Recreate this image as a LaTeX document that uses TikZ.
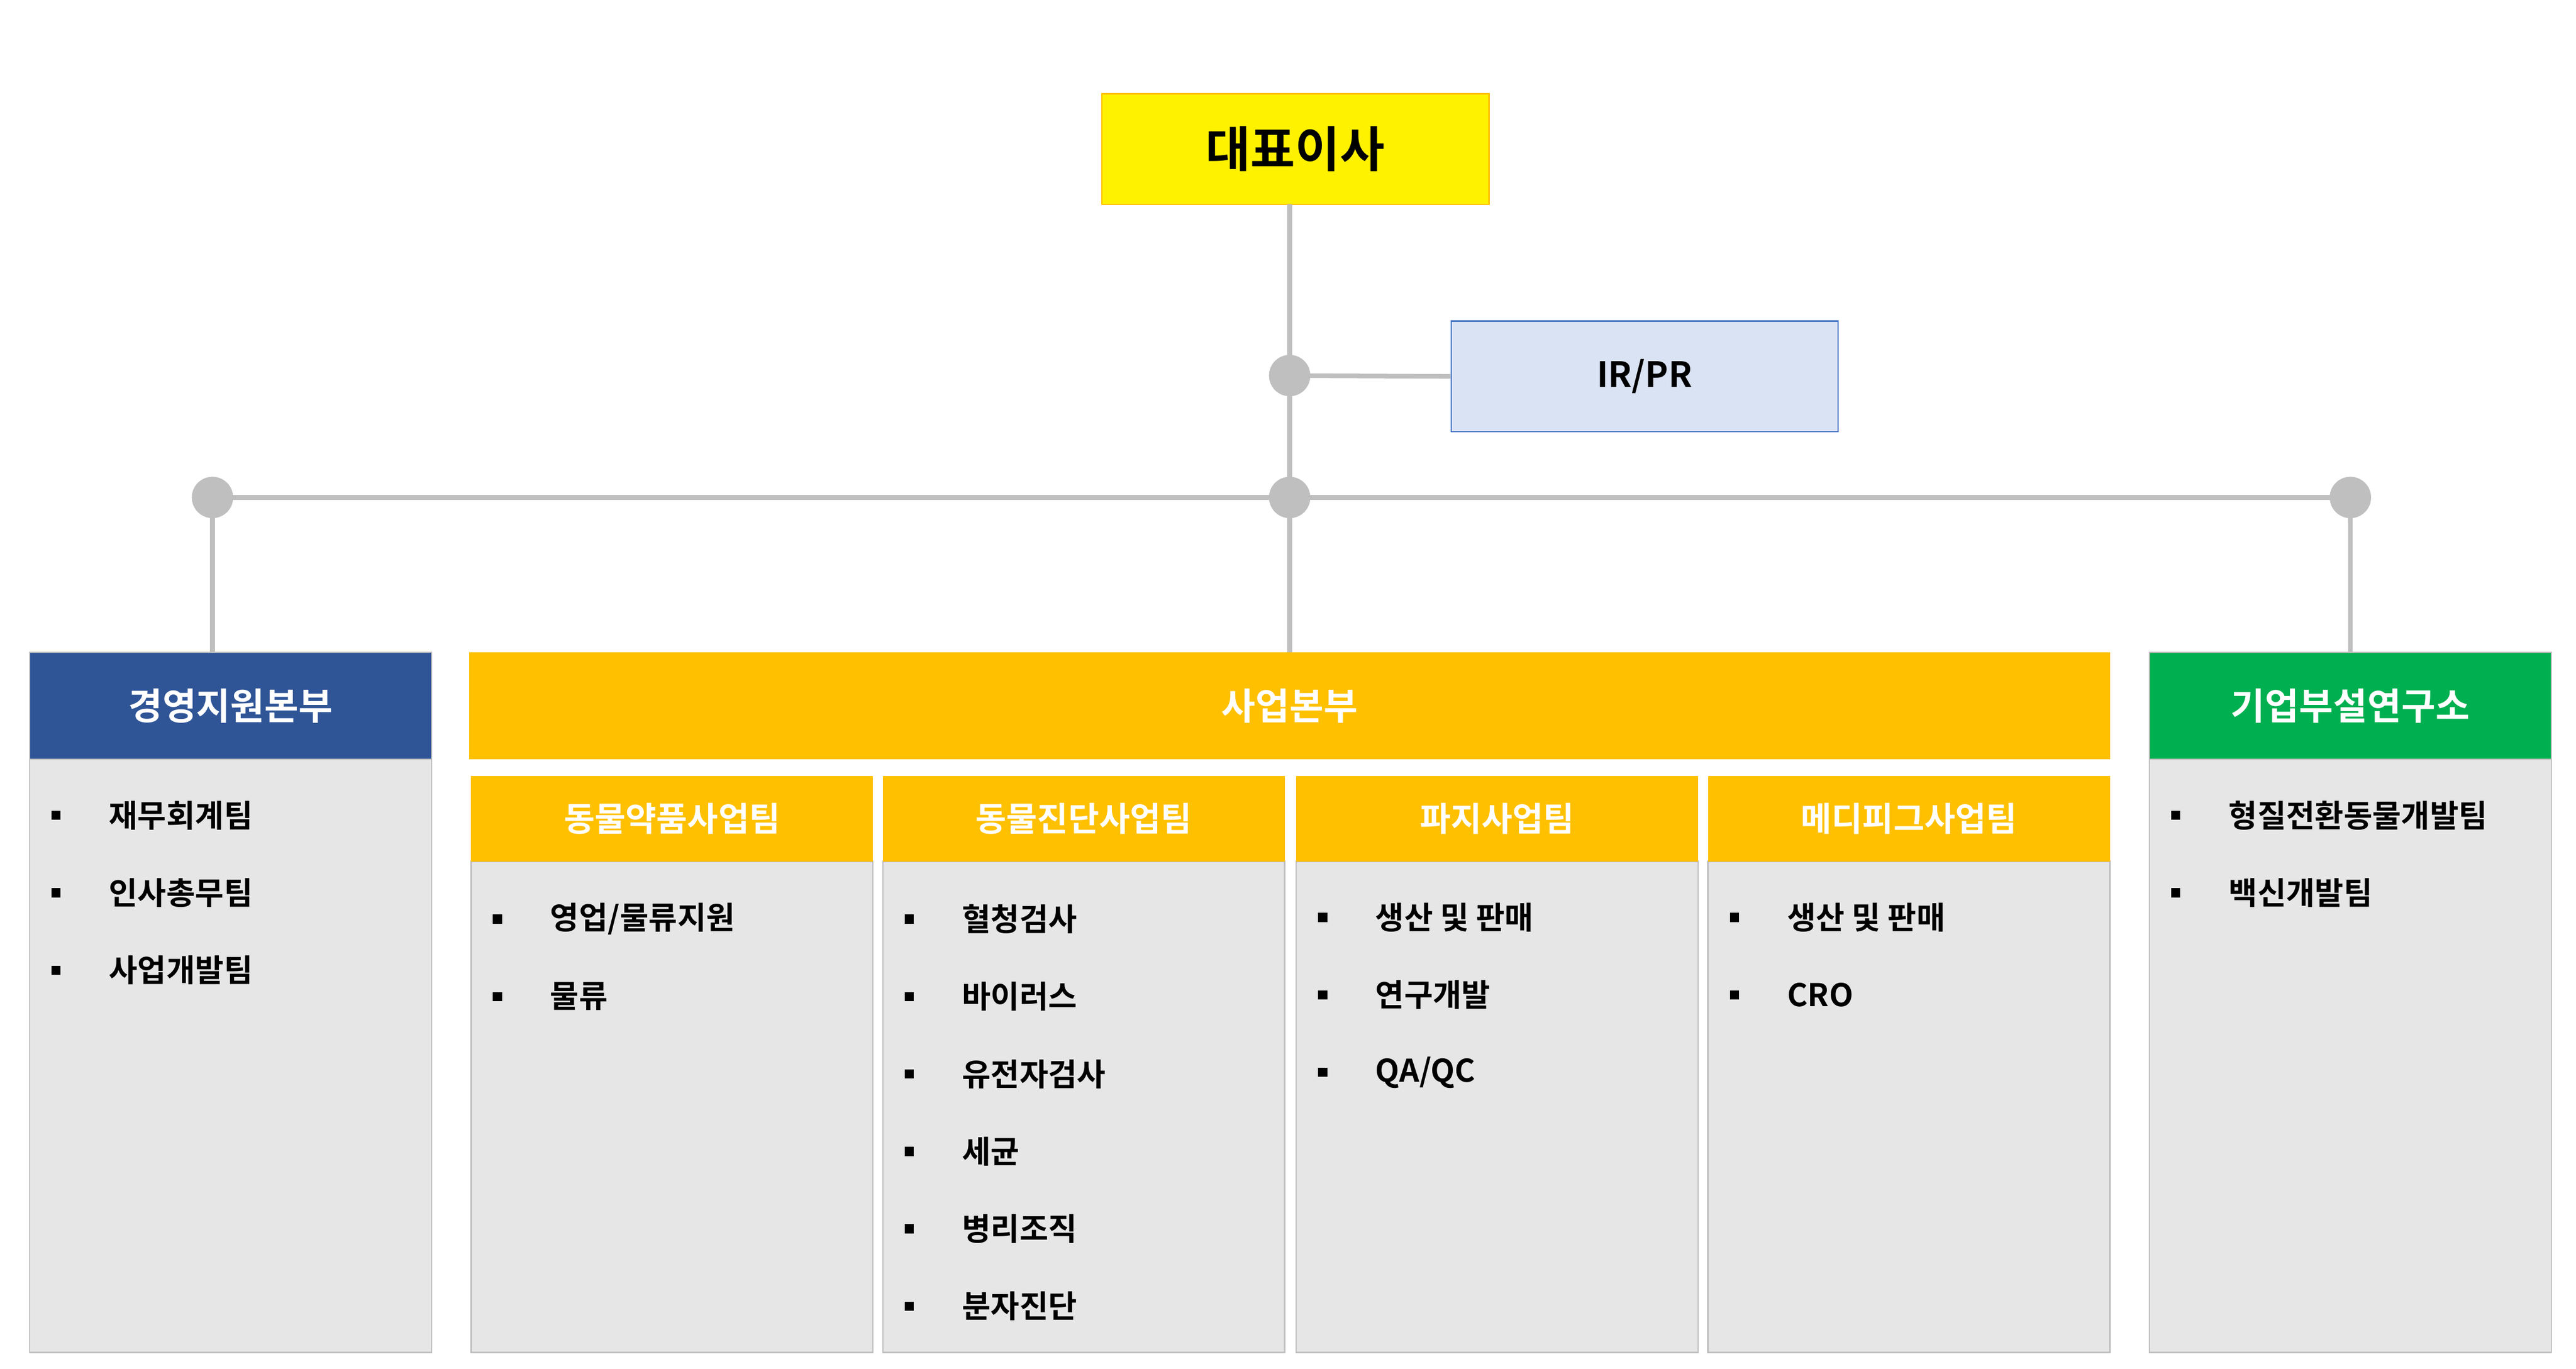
\documentclass[tikz,border=0pt]{standalone}
\usepackage{fontspec}
\setmainfont{Noto Sans CJK KR}[BoldFont={* Bold}]
\definecolor{lgray}{HTML}{BFBFBF}
\definecolor{bodyg}{HTML}{E7E6E6}
\definecolor{navy}{HTML}{2F5597}
\definecolor{gold}{HTML}{FFC000}
\definecolor{grn}{HTML}{00B050}
\definecolor{irfill}{HTML}{DAE3F3}
\definecolor{irline}{HTML}{4472C4}
\begin{document}
\begin{tikzpicture}[x=0.05cm,y=-0.05cm,
 conn/.style={draw=lgray,line width=4pt},
 dot/.style={circle,fill=lgray,minimum size=1.25cm,inner sep=0},
 body/.style={draw=lgray,fill=bodyg,line width=1.2pt},
 htxt/.style={font=\fontsize{32}{36}\selectfont\bfseries,text=white},
 stxt/.style={font=\fontsize{29}{32}\selectfont\bfseries,text=white},
 itm/.style={anchor=west,font=\fontsize{27}{30}\selectfont\bfseries,inner sep=0},
 bul/.style={fill=black,minimum size=0.28cm,inner sep=0}]
\useasboundingbox (0,0) rectangle (1564,831);
\fill[white] (0,0) rectangle (1564,831);
% top
\node[draw=gold,fill=yellow,line width=1.2pt,minimum width=11.75cm,minimum height=3.35cm,font=\fontsize{42}{46}\selectfont\bfseries] (ceo) at (786.5,90.5) {대표이사};
\node[draw=irline,fill=irfill,line width=1.2pt,minimum width=11.75cm,minimum height=3.35cm,font=\fontsize{30}{34}\selectfont\bfseries] (ir) at (998.5,228.5) {IR/PR};
\coordinate (c1) at (783,124);
\node[dot] (d1) at (783,228) {};
\node[dot] (dl) at (129,302) {};
\node[dot] (dm) at (783,302) {};
\node[dot] (dr) at (1427,302) {};
\coordinate (bl) at (129,396);
\coordinate (bm) at (783,396);
\coordinate (br) at (1427,396);
\draw[conn] (c1) -- (d1.center) -- (dm.center) -- (bm);
\draw[conn] (d1.center) -- (ir.west);
\draw[conn] (dl.center) -- (dr.center);
\draw[conn] (dl.center) -- (bl);
\draw[conn] (dr.center) -- (br);
\node[dot] at (783,228) {};\node[dot] at (129,302) {};\node[dot] at (783,302) {};\node[dot] at (1427,302) {};
% left
\draw[body] (18,461) rectangle (262,821);
\fill[navy] (18,396) rectangle (262,461);
\draw[lgray,line width=1.2pt] (18,396) rectangle (262,461);
\node[htxt] (h1) at (140,428.5) {경영지원본부};
% right
\draw[body] (1305,461) rectangle (1549,821);
\fill[grn] (1305,396) rectangle (1549,461);
\draw[lgray,line width=1.2pt] (1305,396) rectangle (1549,461);
\node[htxt] (h3) at (1427,428.5) {기업부설연구소};
% center
\fill[gold] (285,396) rectangle (1281,461);
\node[htxt] (h2) at (783,428.5) {사업본부};
\foreach \x/\t in {286/동물약품사업팀,536/동물진단사업팀,787/파지사업팀,1037/메디피그사업팀}{
 \draw[body] (\x,523) rectangle (\x+244,821);
 \fill[gold] (\x,471) rectangle (\x+244,523);
 \node[stxt] at (\x+122,497) {\t};
}
% items
\foreach \x/\y/\t in {18/495/재무회계팀,18/542/인사총무팀,18/589/사업개발팀,
 1305/495/형질전환동물개발팀,1305/542/백신개발팀,
 286/558/{영업/물류지원},286/605/물류,
 536/558/혈청검사,536/605/바이러스,536/652/유전자검사,536/699/세균,536/746/병리조직,536/793/분자진단,
 787/557/생산 및 판매,787/604/연구개발,787/651/{QA/QC},
 1037/557/생산 및 판매,1037/604/CRO}{
 \node[bul] at (\x+16,\y) {};
 \node[itm] at (\x+48,\y) {\t};
}
\end{tikzpicture}
\end{document}
